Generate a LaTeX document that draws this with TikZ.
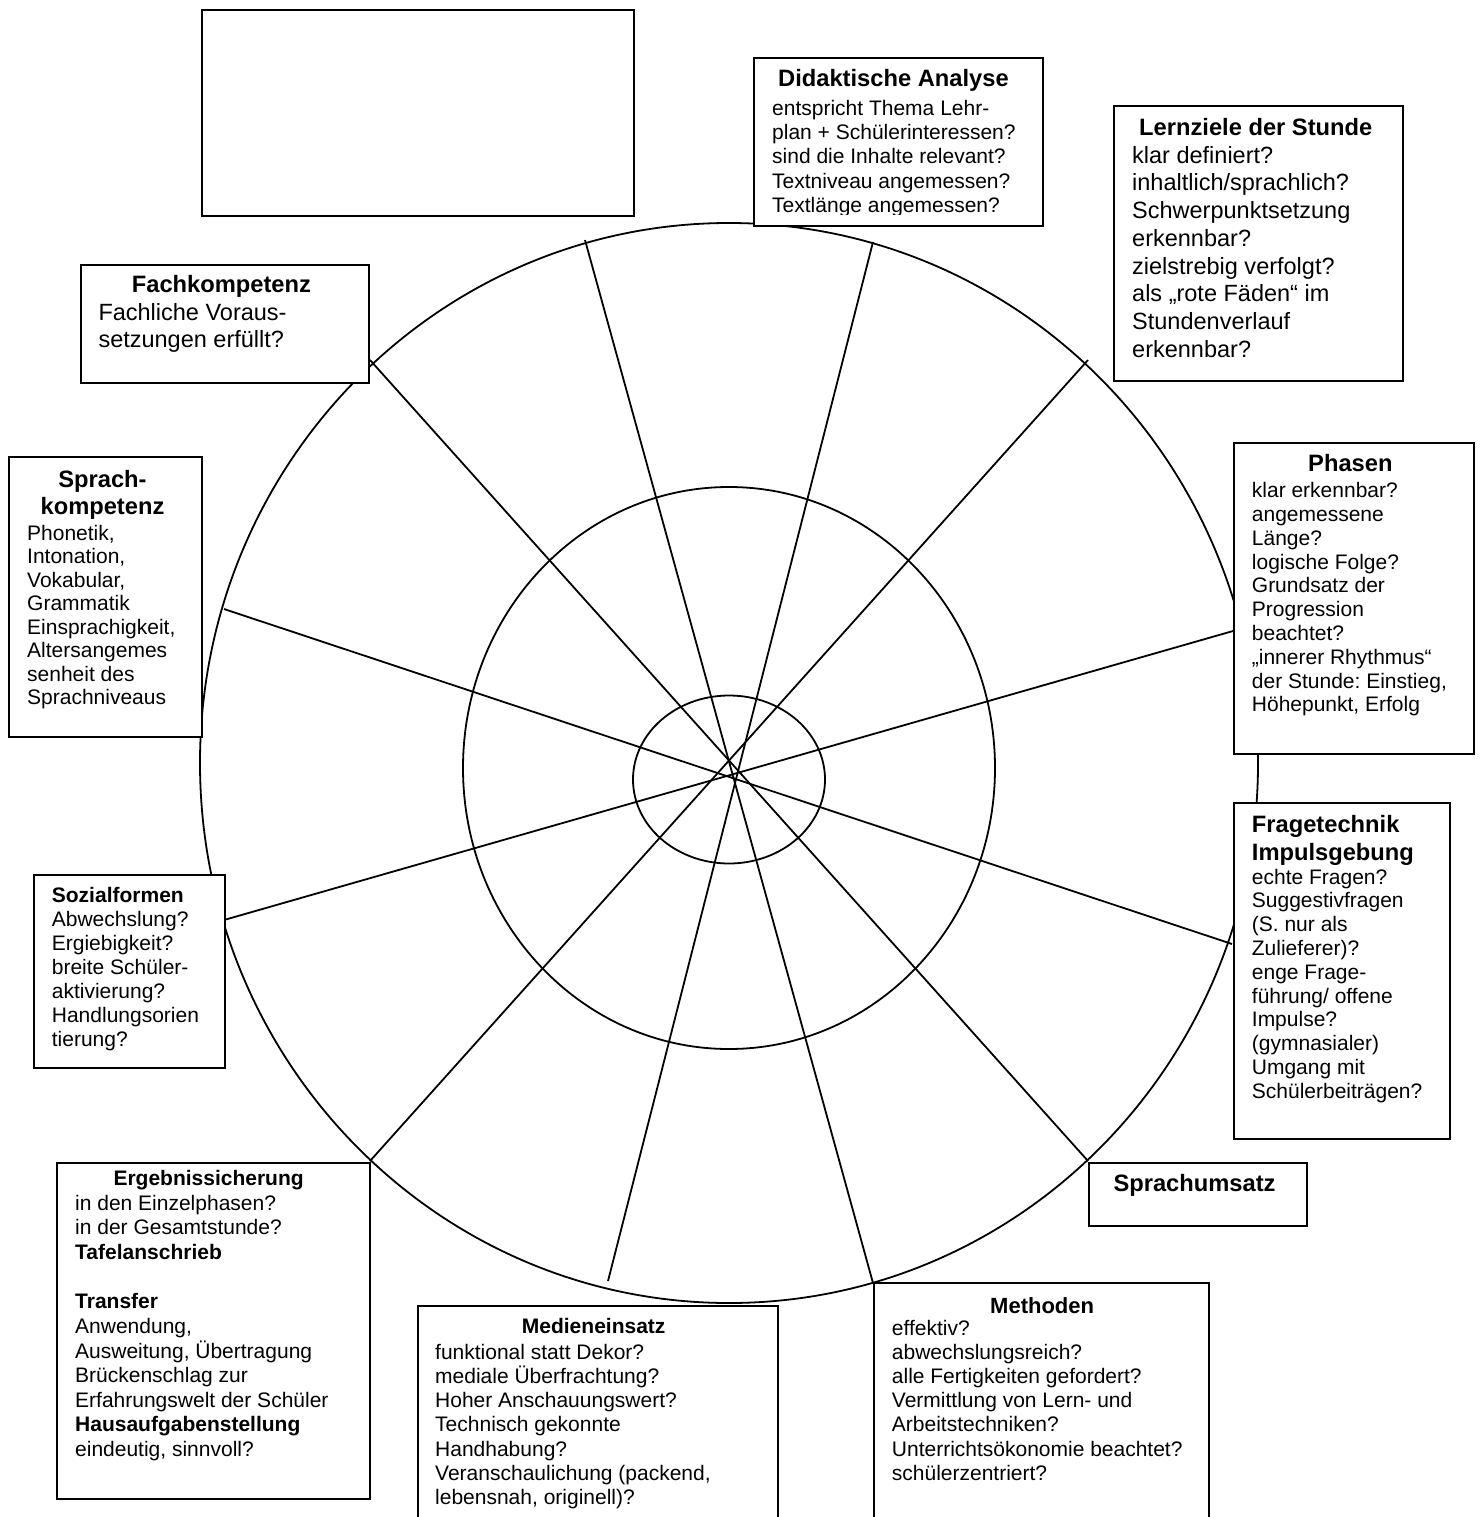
\documentclass[tikz,border=0pt]{standalone}
\usepackage{fontspec}
\setmainfont{Liberation Sans}
\newcommand{\txtlines}[1]{\parbox[t]{420pt}{\raggedright #1}}
\frenchspacing
\begin{document}
\frenchspacing
\begin{tikzpicture}[x=1pt,y=-1pt,
  wheel/.style={line width=1.8pt},
  box/.style={draw, line width=1.8pt, fill=white, inner sep=0pt, anchor=north west},
  hd/.style={anchor=base west, inner sep=0pt, font=\fontsize{23.7}{27.7}\selectfont\bfseries},
  hds/.style={anchor=base west, inner sep=0pt, font=\fontsize{21}{24.2}\selectfont\bfseries},
  txt/.style={anchor=base west, inner sep=0pt, font=\fontsize{21}{#1}\selectfont},
  txt/.default=23.8,
  txtl/.style={anchor=base west, inner sep=0pt, font=\fontsize{23.5}{27.7}\selectfont}
]
\useasboundingbox (0,0) rectangle (1482,1517);

% wheel
\draw[wheel] (729,763) ellipse [x radius=529pt, y radius=540pt];
\draw[wheel] (729,768) ellipse [x radius=266pt, y radius=281pt];
\draw[wheel] (729,779.5) ellipse [x radius=96pt, y radius=84pt];

\coordinate (s1a) at (585,240);  \coordinate (s1b) at (873,1283);
\coordinate (s2a) at (873,242);  \coordinate (s2b) at (608,1281);
\coordinate (s3a) at (1088,360); \coordinate (s3b) at (370,1161);
\coordinate (s4a) at (370,360);  \coordinate (s4b) at (1088,1161);
\coordinate (s5a) at (1233,631); \coordinate (s5b) at (224,920);
\coordinate (s6a) at (224,609);  \coordinate (s6b) at (1232,944);
\foreach \i in {1,...,6} { \draw[wheel] (s\i a) -- (s\i b); }

% boxes
\node[box, minimum width=432pt, minimum height=206pt] (empty) at (201,9) {};
\node[box, minimum width=289pt, minimum height=168pt] (didak) at (753,57) {};
\node[box, minimum width=289pt, minimum height=275pt] (lern) at (1113,105) {};
\node[box, minimum width=288pt, minimum height=118pt] (fach) at (80,264) {};
\node[box, minimum width=193pt, minimum height=280pt] (sprachk) at (8,456) {};
\node[box, minimum width=240pt, minimum height=311pt] (phasen) at (1233,442) {};
\node[box, minimum width=216pt, minimum height=336pt] (frage) at (1233,802) {};
\node[box, minimum width=191pt, minimum height=193pt] (sozial) at (33,874) {};
\node[box, minimum width=313pt, minimum height=336pt] (ergeb) at (56,1162) {};
\node[box, minimum width=218pt, minimum height=63pt] (sprachu) at (1088,1162) {};
\node[box, minimum width=360pt, minimum height=240pt] (medien) at (417,1305) {};
\node[box, minimum width=335pt, minimum height=260pt] (meth) at (873,1282) {};

% texts
\node[hd] (didakH) at (778,87) {Didaktische Analyse};
\begin{scope}
\clip (753,57) rectangle (1042,214);
\node[txt=24.15] (didakT) at (772,115.7) {\txtlines{entspricht Thema Lehr-\\plan + Schülerinteressen?\\sind die Inhalte relevant?\\Textniveau angemessen?\\Textlänge angemessen?}};
\end{scope}

\node[hd] (lernH) at (1139,136) {Lernziele der Stunde};
\node[txtl] (lernT) at (1132,163.3) {\txtlines{klar definiert?\\inhaltlich/sprachlich?\\Schwerpunktsetzung\\erkennbar?\\zielstrebig verfolgt?\\als „rote Fäden“ im\\Stundenverlauf\\erkennbar?}};

\node[hd] (fachH) at (131.7,292.3) {Fachkompetenz};
\node[txtl] (fachT) at (98.3,320) {\txtlines{Fachliche Voraus-\\setzungen erfüllt?}};

\node[hd, anchor=base] (sprachkH1) at (102.5,487) {Sprach-};
\node[hd, anchor=base] (sprachkH2) at (102.5,514) {kompetenz};
\node[txt=23.5] (sprachkT) at (27,540) {\txtlines{Phonetik,\\Intonation,\\Vokabular,\\Grammatik\\Einsprachigkeit,\\Altersangemes\\senheit des\\Sprachniveaus}};

\node[hd] (phasenH) at (1308,471) {Phasen};
\node[txt=23.8] (phasenT) at (1251.7,497.7) {\txtlines{klar erkennbar?\\angemessene\\Länge?\\logische Folge?\\Grundsatz der\\Progression\\beachtet?\\„innerer Rhythmus“\\der Stunde: Einstieg,\\Höhepunkt, Erfolg}};

\node[hd] (frageH1) at (1251.7,832.7) {Fragetechnik};
\node[hd] (frageH2) at (1251.7,860.7) {Impulsgebung};
\node[txt=23.8] (frageT) at (1251.7,884) {\txtlines{echte Fragen?\\Suggestivfragen\\(S. nur als\\Zulieferer)?\\enge Frage-\\führung/ offene\\Impulse?\\(gymnasialer)\\Umgang mit\\Schülerbeiträgen?}};

\node[hds] (sozialH) at (51.7,902.7) {Sozialformen};
\node[txt=23.9] (sozialT) at (51.7,926.7) {\txtlines{Abwechslung?\\Ergiebigkeit?\\breite Schüler-\\aktivierung?\\Handlungsorien\\tierung?}};

\node[hds] (ergebH) at (113.3,1185) {Ergebnissicherung};
\node[txt=24.6] (ergebT) at (75,1210) {\txtlines{in den Einzelphasen?\\in der Gesamtstunde?\\\textbf{Tafelanschrieb}\\[25pt]\textbf{Transfer}\\Anwendung,\\Ausweitung, Übertragung\\Brückenschlag zur\\Erfahrungswelt der Schüler\\\textbf{Hausaufgabenstellung}\\eindeutig, sinnvoll?}};

\node[hd] (sprachuH) at (1113.3,1191.7) {Sprachumsatz};

\node[hds] (medienH) at (521.7,1333.3) {Medieneinsatz};
\node[txt=24.2] (medienT) at (435,1359.3) {\txtlines{funktional statt Dekor?\\mediale Überfrachtung?\\Hoher Anschauungswert?\\Technisch gekonnte\\Handhabung?\\Veranschaulichung (packend,\\lebensnah, originell)?}};

\node[hd, font=\fontsize{22}{26}\selectfont\bfseries] (methH) at (990,1313.3) {Methoden};
\node[txt=24.2] (methT) at (891.7,1335) {\txtlines{effektiv?\\abwechslungsreich?\\alle Fertigkeiten gefordert?\\Vermittlung von Lern- und\\Arbeitstechniken?\\Unterrichtsökonomie beachtet?\\schülerzentriert?}};
\end{tikzpicture}
\end{document}
